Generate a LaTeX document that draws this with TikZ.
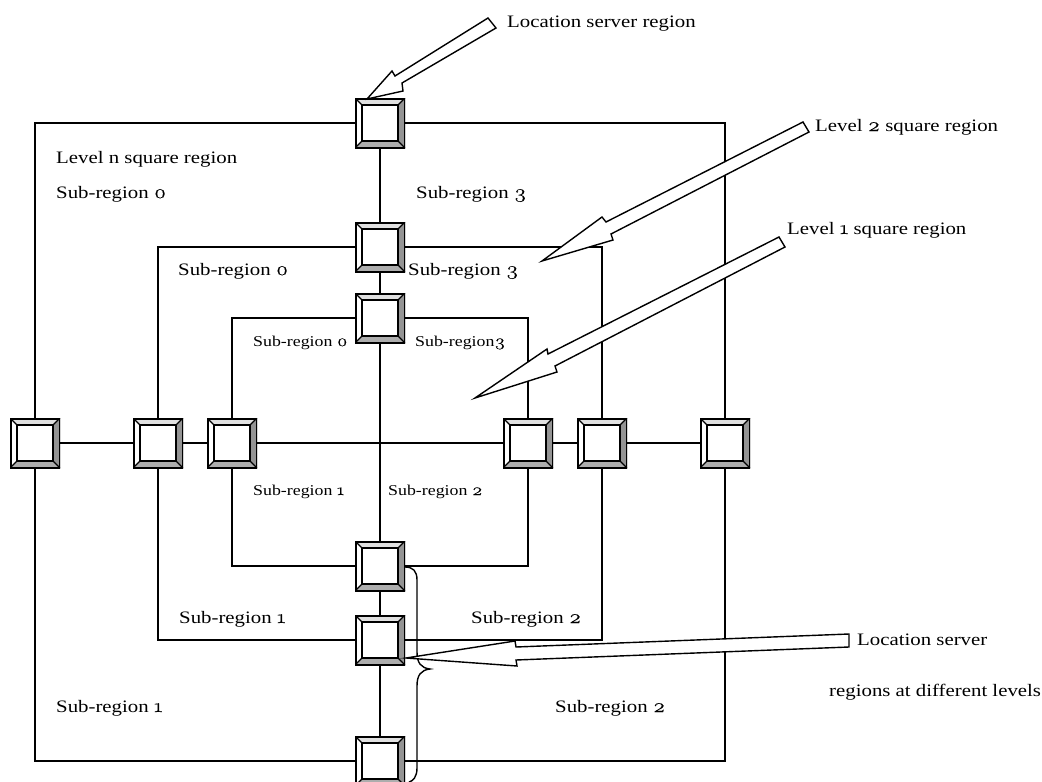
\documentclass[tikz,border=0pt]{standalone}
\usepackage{fontspec}
\setmainfont{Liberation Serif}[FakeStretch=1.19]
\newfontfamily\dig{Latin Modern Roman}[Numbers=OldStyle,FakeBold=0.4,FakeStretch=1.25,Scale=1.08]
\newcommand\od[1]{{\dig #1}}
\tikzset{
  x=1pt,y=-1pt,
  lab/.style={anchor=base west,inner sep=0pt,font=\fontsize{17.5}{20}\selectfont},
  smalllab/.style={anchor=base west,inner sep=0pt,font=\fontsize{15}{17}\selectfont},
  conn/.style={line width=1.4pt,black},
  callout/.style={line width=1.4pt,draw=black,fill=white,line join=miter},
  bevelbox/.style={draw=none,inner sep=0pt,minimum size=50pt,
    path picture={
      \def\m{7pt}
      \coordinate (A) at (path picture bounding box.north west);
      \coordinate (B) at (path picture bounding box.north east);
      \coordinate (C) at (path picture bounding box.south east);
      \coordinate (D) at (path picture bounding box.south west);
      \coordinate (a) at ([xshift=\m,yshift=-\m]A);
      \coordinate (b) at ([xshift=-\m,yshift=-\m]B);
      \coordinate (c) at ([xshift=-\m,yshift=\m]C);
      \coordinate (d) at ([xshift=\m,yshift=\m]D);
      \fill[white] (A) rectangle (C);
      \fill[black!12] (A)--(B)--(b)--(a)--cycle;
      \fill[black!42] (B)--(C)--(c)--(b)--cycle;
      \fill[black!32] (C)--(D)--(d)--(c)--cycle;
      \draw[line width=1.2pt] (A)--(a) (B)--(b) (C)--(c) (D)--(d);
      \draw[line width=1.4pt] (a)--(b)--(c)--(d)--cycle;
      \draw[line width=3pt] (A)--(B)--(C)--(D)--cycle;
    }},
}
\begin{document}
\begin{tikzpicture}
\useasboundingbox (0,0) rectangle (1042,782);
\begin{scope}
\clip (0,0) rectangle (1042,782);
% server boxes
\node[bevelbox] (oT) at (380,123) {};
\node[bevelbox] (mT) at (380,247) {};
\node[bevelbox] (iT) at (380,318) {};
\node[bevelbox] (iB) at (380,566) {};
\node[bevelbox] (mB) at (380,640) {};
\node[bevelbox] (oB) at (380,761) {};
\node[bevelbox] (oL) at (35,443) {};
\node[bevelbox] (mL) at (158,443) {};
\node[bevelbox] (iL) at (232,443) {};
\node[bevelbox] (iR) at (528,443) {};
\node[bevelbox] (mR) at (602,443) {};
\node[bevelbox] (oR) at (725,443) {};
% axes
\draw[conn] (oT)--(mT);
\draw[conn] (mT)--(iT);
\draw[conn] (iT)--(iB);
\draw[conn] (iB)--(mB);
\draw[conn] (mB)--(oB);
\draw[conn] (oL)--(mL);
\draw[conn] (mL)--(iL);
\draw[conn] (iL)--(iR);
\draw[conn] (iR)--(mR);
\draw[conn] (mR)--(oR);
% squares
\draw[conn] (oL) |- (oT);
\draw[conn] (oT) -| (oR);
\draw[conn] (oR) |- (oB);
\draw[conn] (oB) -| (oL);
\draw[conn] (mL) |- (mT);
\draw[conn] (mT) -| (mR);
\draw[conn] (mR) |- (mB);
\draw[conn] (mB) -| (mL);
\draw[conn] (iL) |- (iT);
\draw[conn] (iT) -| (iR);
\draw[conn] (iR) |- (iB);
\draw[conn] (iB) -| (iL);
% brace
\draw[conn] (405,567) .. controls (413,567) and (417,571) .. (417,580)
  -- (417,652) .. controls (417,663) and (421,668) .. (430,669)
  .. controls (421,670) and (417,675) .. (417,686)
  -- (417,768) .. controls (417,777) and (413,781) .. (409,782);
% block arrows
\draw[callout] (367,99)--(392,71)--(395,76)--(488,18)--(496,28)--(402,83)--(403,91)--cycle;
\draw[callout] (542,261)--(602,217)--(606,222)--(803,122)--(809,132)--(611,234)--(613,240)--cycle;
\draw[callout] (475,398)--(547,349)--(548,354)--(779,237)--(785,247)--(555,366)--(557,372)--cycle;
\draw[callout] (406,658)--(515,641)--(516,647)--(849,634)--(849,647)--(516,660)--(517,666)--cycle;
\end{scope}
% labels
\node[lab] (t1) at (507,27) {Location server region};
\node[lab] (t2) at (815,131) {Level \od{2} square region};
\node[lab] (t3) at (787,234) {Level \od{1} square region};
\node[lab] (t4) at (56,163) {Level n square region};
\node[lab] (t5) at (56,198) {Sub-region \od{0}};
\node[lab] (t6) at (416,198) {Sub-region \od{3}};
\node[lab] (t7) at (178,275) {Sub-region \od{0}};
\node[lab] (t8) at (408,275) {Sub-region \od{3}};
\node[smalllab] (t9) at (253,346) {Sub-region \od{0}};
\node[smalllab] (t10) at (415,346) {Sub-region\od{3}};
\node[smalllab] (t11) at (253,495) {Sub-region \od{1}};
\node[smalllab] (t12) at (388,495) {Sub-region \od{2}};
\node[lab] (t13) at (179,623) {Sub-region \od{1}};
\node[lab] (t14) at (471,623) {Sub-region \od{2}};
\node[lab] (t15) at (56,712) {Sub-region \od{1}};
\node[lab] (t16) at (555,712) {Sub-region \od{2}};
\node[lab] (t17) at (857,645) {Location server};
\node[lab] (t18) at (829,696) {regions at different levels};
\end{tikzpicture}
\end{document}
